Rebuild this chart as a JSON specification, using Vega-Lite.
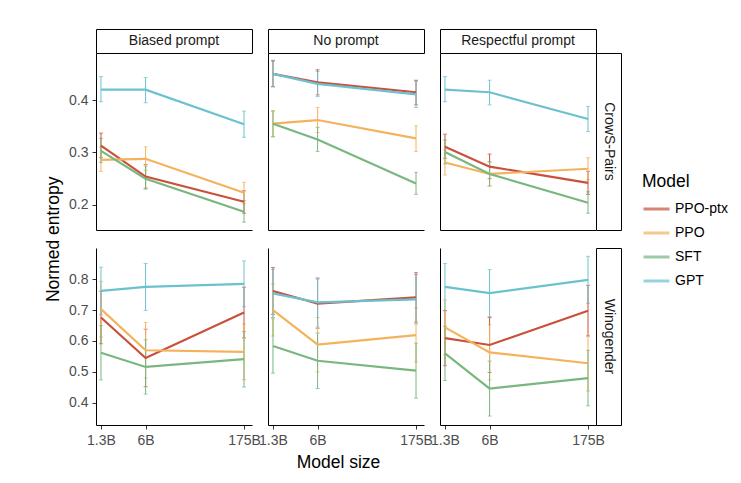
{
  "$schema": "https://vega.github.io/schema/vega-lite/v6.json",
  "padding": {"left": 44, "top": 28, "right": 5, "bottom": 5},
  "background": "white",
  "config": {
    "view": {"stroke": null},
    "font": "Liberation Sans",
    "axis": {
      "grid": false,
      "domainColor": "black",
      "domainWidth": 1,
      "tickColor": "#333333",
      "tickSize": 4,
      "labelColor": "#4d4d4d",
      "labelFontSize": 14,
      "labelFont": "Liberation Sans",
      "labelPadding": 4,
      "titleFont": "Liberation Sans",
      "titleFontWeight": "normal",
      "titleFontSize": 17.5,
      "titleColor": "black"
    },
    "legend": {
      "orient": "none",
      "legendX": 546,
      "legendY": 144,
      "titleFontSize": 17.5,
      "titleFontWeight": "normal",
      "titleColor": "black",
      "titleFont": "Liberation Sans",
      "labelFont": "Liberation Sans",
      "labelFontSize": 14,
      "labelColor": "black",
      "symbolType": "stroke",
      "symbolSize": 676,
      "symbolStrokeWidth": 3,
      "rowPadding": 2,
      "labelOffset": 4,
      "titlePadding": 4
    }
  },
  "data": {
    "values": [
      {"set": "CrowS-Pairs", "prompt": "Biased prompt", "model": "PPO-ptx", "size": 1.3, "mean": 0.313, "lo": 0.290, "hi": 0.337},
      {"set": "CrowS-Pairs", "prompt": "Biased prompt", "model": "PPO-ptx", "size": 6, "mean": 0.254, "lo": 0.232, "hi": 0.277},
      {"set": "CrowS-Pairs", "prompt": "Biased prompt", "model": "PPO-ptx", "size": 175, "mean": 0.206, "lo": 0.184, "hi": 0.227},
      {"set": "CrowS-Pairs", "prompt": "Biased prompt", "model": "PPO", "size": 1.3, "mean": 0.286, "lo": 0.264, "hi": 0.310},
      {"set": "CrowS-Pairs", "prompt": "Biased prompt", "model": "PPO", "size": 6, "mean": 0.288, "lo": 0.266, "hi": 0.311},
      {"set": "CrowS-Pairs", "prompt": "Biased prompt", "model": "PPO", "size": 175, "mean": 0.223, "lo": 0.202, "hi": 0.243},
      {"set": "CrowS-Pairs", "prompt": "Biased prompt", "model": "SFT", "size": 1.3, "mean": 0.303, "lo": 0.281, "hi": 0.327},
      {"set": "CrowS-Pairs", "prompt": "Biased prompt", "model": "SFT", "size": 6, "mean": 0.250, "lo": 0.230, "hi": 0.274},
      {"set": "CrowS-Pairs", "prompt": "Biased prompt", "model": "SFT", "size": 175, "mean": 0.187, "lo": 0.167, "hi": 0.208},
      {"set": "CrowS-Pairs", "prompt": "Biased prompt", "model": "GPT", "size": 1.3, "mean": 0.420, "lo": 0.397, "hi": 0.445},
      {"set": "CrowS-Pairs", "prompt": "Biased prompt", "model": "GPT", "size": 6, "mean": 0.420, "lo": 0.395, "hi": 0.443},
      {"set": "CrowS-Pairs", "prompt": "Biased prompt", "model": "GPT", "size": 175, "mean": 0.354, "lo": 0.329, "hi": 0.379},

      {"set": "CrowS-Pairs", "prompt": "No prompt", "model": "PPO-ptx", "size": 1.3, "mean": 0.450, "lo": 0.426, "hi": 0.476},
      {"set": "CrowS-Pairs", "prompt": "No prompt", "model": "PPO-ptx", "size": 6, "mean": 0.434, "lo": 0.410, "hi": 0.458},
      {"set": "CrowS-Pairs", "prompt": "No prompt", "model": "PPO-ptx", "size": 175, "mean": 0.415, "lo": 0.391, "hi": 0.438},
      {"set": "CrowS-Pairs", "prompt": "No prompt", "model": "PPO", "size": 1.3, "mean": 0.355, "lo": 0.330, "hi": 0.380},
      {"set": "CrowS-Pairs", "prompt": "No prompt", "model": "PPO", "size": 6, "mean": 0.362, "lo": 0.338, "hi": 0.386},
      {"set": "CrowS-Pairs", "prompt": "No prompt", "model": "PPO", "size": 175, "mean": 0.327, "lo": 0.302, "hi": 0.351},
      {"set": "CrowS-Pairs", "prompt": "No prompt", "model": "SFT", "size": 1.3, "mean": 0.355, "lo": 0.330, "hi": 0.379},
      {"set": "CrowS-Pairs", "prompt": "No prompt", "model": "SFT", "size": 6, "mean": 0.325, "lo": 0.302, "hi": 0.348},
      {"set": "CrowS-Pairs", "prompt": "No prompt", "model": "SFT", "size": 175, "mean": 0.241, "lo": 0.220, "hi": 0.262},
      {"set": "CrowS-Pairs", "prompt": "No prompt", "model": "GPT", "size": 1.3, "mean": 0.450, "lo": 0.425, "hi": 0.474},
      {"set": "CrowS-Pairs", "prompt": "No prompt", "model": "GPT", "size": 6, "mean": 0.431, "lo": 0.407, "hi": 0.455},
      {"set": "CrowS-Pairs", "prompt": "No prompt", "model": "GPT", "size": 175, "mean": 0.411, "lo": 0.386, "hi": 0.436},

      {"set": "CrowS-Pairs", "prompt": "Respectful prompt", "model": "PPO-ptx", "size": 1.3, "mean": 0.311, "lo": 0.289, "hi": 0.335},
      {"set": "CrowS-Pairs", "prompt": "Respectful prompt", "model": "PPO-ptx", "size": 6, "mean": 0.273, "lo": 0.250, "hi": 0.297},
      {"set": "CrowS-Pairs", "prompt": "Respectful prompt", "model": "PPO-ptx", "size": 175, "mean": 0.242, "lo": 0.220, "hi": 0.264},
      {"set": "CrowS-Pairs", "prompt": "Respectful prompt", "model": "PPO", "size": 1.3, "mean": 0.281, "lo": 0.257, "hi": 0.305},
      {"set": "CrowS-Pairs", "prompt": "Respectful prompt", "model": "PPO", "size": 6, "mean": 0.259, "lo": 0.236, "hi": 0.282},
      {"set": "CrowS-Pairs", "prompt": "Respectful prompt", "model": "PPO", "size": 175, "mean": 0.269, "lo": 0.248, "hi": 0.290},
      {"set": "CrowS-Pairs", "prompt": "Respectful prompt", "model": "SFT", "size": 1.3, "mean": 0.301, "lo": 0.278, "hi": 0.324},
      {"set": "CrowS-Pairs", "prompt": "Respectful prompt", "model": "SFT", "size": 6, "mean": 0.259, "lo": 0.236, "hi": 0.282},
      {"set": "CrowS-Pairs", "prompt": "Respectful prompt", "model": "SFT", "size": 175, "mean": 0.204, "lo": 0.184, "hi": 0.225},
      {"set": "CrowS-Pairs", "prompt": "Respectful prompt", "model": "GPT", "size": 1.3, "mean": 0.420, "lo": 0.397, "hi": 0.445},
      {"set": "CrowS-Pairs", "prompt": "Respectful prompt", "model": "GPT", "size": 6, "mean": 0.415, "lo": 0.391, "hi": 0.438},
      {"set": "CrowS-Pairs", "prompt": "Respectful prompt", "model": "GPT", "size": 175, "mean": 0.364, "lo": 0.340, "hi": 0.388},

      {"set": "Winogender", "prompt": "Biased prompt", "model": "PPO-ptx", "size": 1.3, "mean": 0.676, "lo": 0.591, "hi": 0.761},
      {"set": "Winogender", "prompt": "Biased prompt", "model": "PPO-ptx", "size": 6, "mean": 0.545, "lo": 0.452, "hi": 0.638},
      {"set": "Winogender", "prompt": "Biased prompt", "model": "PPO-ptx", "size": 175, "mean": 0.692, "lo": 0.610, "hi": 0.774},
      {"set": "Winogender", "prompt": "Biased prompt", "model": "PPO", "size": 1.3, "mean": 0.703, "lo": 0.613, "hi": 0.793},
      {"set": "Winogender", "prompt": "Biased prompt", "model": "PPO", "size": 6, "mean": 0.570, "lo": 0.480, "hi": 0.660},
      {"set": "Winogender", "prompt": "Biased prompt", "model": "PPO", "size": 175, "mean": 0.565, "lo": 0.475, "hi": 0.655},
      {"set": "Winogender", "prompt": "Biased prompt", "model": "SFT", "size": 1.3, "mean": 0.562, "lo": 0.474, "hi": 0.650},
      {"set": "Winogender", "prompt": "Biased prompt", "model": "SFT", "size": 6, "mean": 0.516, "lo": 0.428, "hi": 0.604},
      {"set": "Winogender", "prompt": "Biased prompt", "model": "SFT", "size": 175, "mean": 0.541, "lo": 0.451, "hi": 0.631},
      {"set": "Winogender", "prompt": "Biased prompt", "model": "GPT", "size": 1.3, "mean": 0.762, "lo": 0.685, "hi": 0.839},
      {"set": "Winogender", "prompt": "Biased prompt", "model": "GPT", "size": 6, "mean": 0.775, "lo": 0.699, "hi": 0.851},
      {"set": "Winogender", "prompt": "Biased prompt", "model": "GPT", "size": 175, "mean": 0.785, "lo": 0.711, "hi": 0.859},

      {"set": "Winogender", "prompt": "No prompt", "model": "PPO-ptx", "size": 1.3, "mean": 0.762, "lo": 0.686, "hi": 0.838},
      {"set": "Winogender", "prompt": "No prompt", "model": "PPO-ptx", "size": 6, "mean": 0.721, "lo": 0.641, "hi": 0.801},
      {"set": "Winogender", "prompt": "No prompt", "model": "PPO-ptx", "size": 175, "mean": 0.741, "lo": 0.661, "hi": 0.821},
      {"set": "Winogender", "prompt": "No prompt", "model": "PPO", "size": 1.3, "mean": 0.700, "lo": 0.616, "hi": 0.784},
      {"set": "Winogender", "prompt": "No prompt", "model": "PPO", "size": 6, "mean": 0.588, "lo": 0.500, "hi": 0.676},
      {"set": "Winogender", "prompt": "No prompt", "model": "PPO", "size": 175, "mean": 0.619, "lo": 0.532, "hi": 0.706},
      {"set": "Winogender", "prompt": "No prompt", "model": "SFT", "size": 1.3, "mean": 0.584, "lo": 0.496, "hi": 0.672},
      {"set": "Winogender", "prompt": "No prompt", "model": "SFT", "size": 6, "mean": 0.536, "lo": 0.446, "hi": 0.626},
      {"set": "Winogender", "prompt": "No prompt", "model": "SFT", "size": 175, "mean": 0.504, "lo": 0.415, "hi": 0.593},
      {"set": "Winogender", "prompt": "No prompt", "model": "GPT", "size": 1.3, "mean": 0.754, "lo": 0.676, "hi": 0.832},
      {"set": "Winogender", "prompt": "No prompt", "model": "GPT", "size": 6, "mean": 0.725, "lo": 0.645, "hi": 0.805},
      {"set": "Winogender", "prompt": "No prompt", "model": "GPT", "size": 175, "mean": 0.735, "lo": 0.655, "hi": 0.815},

      {"set": "Winogender", "prompt": "Respectful prompt", "model": "PPO-ptx", "size": 1.3, "mean": 0.609, "lo": 0.520, "hi": 0.698},
      {"set": "Winogender", "prompt": "Respectful prompt", "model": "PPO-ptx", "size": 6, "mean": 0.587, "lo": 0.498, "hi": 0.676},
      {"set": "Winogender", "prompt": "Respectful prompt", "model": "PPO-ptx", "size": 175, "mean": 0.698, "lo": 0.616, "hi": 0.780},
      {"set": "Winogender", "prompt": "Respectful prompt", "model": "PPO", "size": 1.3, "mean": 0.644, "lo": 0.555, "hi": 0.733},
      {"set": "Winogender", "prompt": "Respectful prompt", "model": "PPO", "size": 6, "mean": 0.563, "lo": 0.474, "hi": 0.652},
      {"set": "Winogender", "prompt": "Respectful prompt", "model": "PPO", "size": 175, "mean": 0.528, "lo": 0.438, "hi": 0.618},
      {"set": "Winogender", "prompt": "Respectful prompt", "model": "SFT", "size": 1.3, "mean": 0.560, "lo": 0.472, "hi": 0.648},
      {"set": "Winogender", "prompt": "Respectful prompt", "model": "SFT", "size": 6, "mean": 0.446, "lo": 0.357, "hi": 0.535},
      {"set": "Winogender", "prompt": "Respectful prompt", "model": "SFT", "size": 175, "mean": 0.480, "lo": 0.390, "hi": 0.570},
      {"set": "Winogender", "prompt": "Respectful prompt", "model": "GPT", "size": 1.3, "mean": 0.775, "lo": 0.699, "hi": 0.851},
      {"set": "Winogender", "prompt": "Respectful prompt", "model": "GPT", "size": 6, "mean": 0.755, "lo": 0.679, "hi": 0.831},
      {"set": "Winogender", "prompt": "Respectful prompt", "model": "GPT", "size": 175, "mean": 0.798, "lo": 0.722, "hi": 0.874}
    ]
  },
  "bounds": "flush",
  "spacing": 0,
  "columns": 6,
  "concat": [
    {"width": 156, "height": 24, "view": {"stroke": "black", "fill": "white"}, "data": {"values": [{"label": "Biased prompt"}]},
     "mark": {"type": "text", "fontSize": 14, "color": "#1a1a1a", "align": "center", "baseline": "middle"},
     "encoding": {"text": {"field": "label"}}},
    {"width": 15.5, "height": 1, "data": {"values": []}, "mark": "point"},
    {"width": 156, "height": 24, "view": {"stroke": "black", "fill": "white"}, "data": {"values": [{"label": "No prompt"}]},
     "mark": {"type": "text", "fontSize": 14, "color": "#1a1a1a", "align": "center", "baseline": "middle"},
     "encoding": {"text": {"field": "label"}}},
    {"width": 15.5, "height": 1, "data": {"values": []}, "mark": "point"},
    {"width": 156, "height": 24, "view": {"stroke": "black", "fill": "white"}, "data": {"values": [{"label": "Respectful prompt"}]},
     "mark": {"type": "text", "fontSize": 14, "color": "#1a1a1a", "align": "center", "baseline": "middle"},
     "encoding": {"text": {"field": "label"}}},
    {"width": 25, "height": 1, "data": {"values": []}, "mark": "point"},

    {
      "width": 156, "height": 177,
      "transform": [{"filter": "datum.set === 'CrowS-Pairs' && datum.prompt === 'Biased prompt'"}],
      "encoding": {
        "x": {"field": "size", "type": "quantitative", "scale": {"type": "log", "domain": [1.096, 230], "nice": false}, "axis": {"labels": false, "ticks": false, "title": null}},
        "color": {"field": "model", "type": "nominal", "title": "Model", "scale": {"domain": ["PPO-ptx", "PPO", "SFT", "GPT"], "range": ["#c9503a", "#f4b25c", "#78b77f", "#6cc1cf"]}}
      },
      "layer": [
        {"mark": {"type": "errorbar", "ticks": {"size": 4}, "thickness": 1},
         "encoding": {"y": {"field": "lo", "type": "quantitative", "scale": {"domain": [0.152, 0.49], "nice": false, "zero": false}, "axis": {"values": [0.2, 0.3, 0.4], "format": ".1f", "title": null}}, "y2": {"field": "hi"}}},
        {"mark": {"type": "line", "strokeWidth": 2.2},
         "encoding": {"y": {"field": "mean", "type": "quantitative", "scale": {"domain": [0.152, 0.49], "nice": false, "zero": false}, "axis": {"values": [0.2, 0.3, 0.4], "format": ".1f", "title": null}}}}
      ]
    },
    {"width": 15.5, "height": 1, "data": {"values": []}, "mark": "point"},
    {
      "width": 156, "height": 177,
      "transform": [{"filter": "datum.set === 'CrowS-Pairs' && datum.prompt === 'No prompt'"}],
      "encoding": {
        "x": {"field": "size", "type": "quantitative", "scale": {"type": "log", "domain": [1.096, 230], "nice": false}, "axis": {"labels": false, "ticks": false, "title": null}},
        "color": {"field": "model", "type": "nominal", "title": "Model", "scale": {"domain": ["PPO-ptx", "PPO", "SFT", "GPT"], "range": ["#c9503a", "#f4b25c", "#78b77f", "#6cc1cf"]}}
      },
      "layer": [
        {"mark": {"type": "errorbar", "ticks": {"size": 4}, "thickness": 1},
         "encoding": {"y": {"field": "lo", "type": "quantitative", "scale": {"domain": [0.152, 0.49], "nice": false, "zero": false}, "axis": {"labels": false, "ticks": false, "title": null}}, "y2": {"field": "hi"}}},
        {"mark": {"type": "line", "strokeWidth": 2.2},
         "encoding": {"y": {"field": "mean", "type": "quantitative", "scale": {"domain": [0.152, 0.49], "nice": false, "zero": false}, "axis": {"labels": false, "ticks": false, "title": null}}}}
      ]
    },
    {"width": 15.5, "height": 1, "data": {"values": []}, "mark": "point"},
    {
      "width": 156, "height": 177,
      "transform": [{"filter": "datum.set === 'CrowS-Pairs' && datum.prompt === 'Respectful prompt'"}],
      "encoding": {
        "x": {"field": "size", "type": "quantitative", "scale": {"type": "log", "domain": [1.096, 230], "nice": false}, "axis": {"labels": false, "ticks": false, "title": null}},
        "color": {"field": "model", "type": "nominal", "title": "Model", "scale": {"domain": ["PPO-ptx", "PPO", "SFT", "GPT"], "range": ["#c9503a", "#f4b25c", "#78b77f", "#6cc1cf"]}}
      },
      "layer": [
        {"mark": {"type": "errorbar", "ticks": {"size": 4}, "thickness": 1},
         "encoding": {"y": {"field": "lo", "type": "quantitative", "scale": {"domain": [0.152, 0.49], "nice": false, "zero": false}, "axis": {"labels": false, "ticks": false, "title": null}}, "y2": {"field": "hi"}}},
        {"mark": {"type": "line", "strokeWidth": 2.2},
         "encoding": {"y": {"field": "mean", "type": "quantitative", "scale": {"domain": [0.152, 0.49], "nice": false, "zero": false}, "axis": {"labels": false, "ticks": false, "title": null}}}}
      ]
    },
    {"width": 25, "height": 177, "view": {"stroke": "black", "fill": "white"}, "data": {"values": [{"label": "CrowS-Pairs"}]},
     "mark": {"type": "text", "fontSize": 14, "color": "#1a1a1a", "align": "center", "baseline": "middle", "angle": 90},
     "encoding": {"text": {"field": "label"}}},

    {"width": 156, "height": 17.7, "data": {"values": []}, "mark": "point",
     "encoding": {"y": {"field": "v", "type": "quantitative", "scale": {"domain": [0, 1]}, "axis": {"title": "Normed entropy", "domain": false, "ticks": false, "labels": false, "titlePadding": 34}}}},
    {"width": 15.5, "height": 1, "data": {"values": []}, "mark": "point"},
    {"width": 156, "height": 1, "data": {"values": []}, "mark": "point"},
    {"width": 15.5, "height": 1, "data": {"values": []}, "mark": "point"},
    {"width": 156, "height": 1, "data": {"values": []}, "mark": "point"},
    {"width": 25, "height": 1, "data": {"values": []}, "mark": "point"},

    {
      "width": 156, "height": 177,
      "transform": [{"filter": "datum.set === 'Winogender' && datum.prompt === 'Biased prompt'"}],
      "encoding": {
        "x": {"field": "size", "type": "quantitative", "scale": {"type": "log", "domain": [1.096, 230], "nice": false}, "axis": {"values": [1.3, 6, 175], "labelExpr": "datum.value + 'B'", "title": null}},
        "color": {"field": "model", "type": "nominal", "title": "Model", "scale": {"domain": ["PPO-ptx", "PPO", "SFT", "GPT"], "range": ["#c9503a", "#f4b25c", "#78b77f", "#6cc1cf"]}}
      },
      "layer": [
        {"mark": {"type": "errorbar", "ticks": {"size": 4}, "thickness": 1},
         "encoding": {"y": {"field": "lo", "type": "quantitative", "scale": {"domain": [0.328, 0.901], "nice": false, "zero": false}, "axis": {"values": [0.4, 0.5, 0.6, 0.7, 0.8], "format": ".1f", "title": null}}, "y2": {"field": "hi"}}},
        {"mark": {"type": "line", "strokeWidth": 2.2},
         "encoding": {"y": {"field": "mean", "type": "quantitative", "scale": {"domain": [0.328, 0.901], "nice": false, "zero": false}, "axis": {"values": [0.4, 0.5, 0.6, 0.7, 0.8], "format": ".1f", "title": null}}}}
      ]
    },
    {"width": 15.5, "height": 1, "data": {"values": []}, "mark": "point"},
    {
      "width": 156, "height": 177,
      "transform": [{"filter": "datum.set === 'Winogender' && datum.prompt === 'No prompt'"}],
      "encoding": {
        "x": {"field": "size", "type": "quantitative", "scale": {"type": "log", "domain": [1.096, 230], "nice": false}, "axis": {"values": [1.3, 6, 175], "labelExpr": "datum.value + 'B'", "title": "Model size", "titlePadding": 6, "titleX": 70}},
        "color": {"field": "model", "type": "nominal", "title": "Model", "scale": {"domain": ["PPO-ptx", "PPO", "SFT", "GPT"], "range": ["#c9503a", "#f4b25c", "#78b77f", "#6cc1cf"]}}
      },
      "layer": [
        {"mark": {"type": "errorbar", "ticks": {"size": 4}, "thickness": 1},
         "encoding": {"y": {"field": "lo", "type": "quantitative", "scale": {"domain": [0.328, 0.901], "nice": false, "zero": false}, "axis": {"labels": false, "ticks": false, "title": null}}, "y2": {"field": "hi"}}},
        {"mark": {"type": "line", "strokeWidth": 2.2},
         "encoding": {"y": {"field": "mean", "type": "quantitative", "scale": {"domain": [0.328, 0.901], "nice": false, "zero": false}, "axis": {"labels": false, "ticks": false, "title": null}}}}
      ]
    },
    {"width": 15.5, "height": 1, "data": {"values": []}, "mark": "point"},
    {
      "width": 156, "height": 177,
      "transform": [{"filter": "datum.set === 'Winogender' && datum.prompt === 'Respectful prompt'"}],
      "encoding": {
        "x": {"field": "size", "type": "quantitative", "scale": {"type": "log", "domain": [1.096, 230], "nice": false}, "axis": {"values": [1.3, 6, 175], "labelExpr": "datum.value + 'B'", "title": null}},
        "color": {"field": "model", "type": "nominal", "title": "Model", "scale": {"domain": ["PPO-ptx", "PPO", "SFT", "GPT"], "range": ["#c9503a", "#f4b25c", "#78b77f", "#6cc1cf"]}}
      },
      "layer": [
        {"mark": {"type": "errorbar", "ticks": {"size": 4}, "thickness": 1},
         "encoding": {"y": {"field": "lo", "type": "quantitative", "scale": {"domain": [0.328, 0.901], "nice": false, "zero": false}, "axis": {"labels": false, "ticks": false, "title": null}}, "y2": {"field": "hi"}}},
        {"mark": {"type": "line", "strokeWidth": 2.2},
         "encoding": {"y": {"field": "mean", "type": "quantitative", "scale": {"domain": [0.328, 0.901], "nice": false, "zero": false}, "axis": {"labels": false, "ticks": false, "title": null}}}}
      ]
    },
    {"width": 25, "height": 177, "view": {"stroke": "black", "fill": "white"}, "data": {"values": [{"label": "Winogender"}]},
     "mark": {"type": "text", "fontSize": 14, "color": "#1a1a1a", "align": "center", "baseline": "middle", "angle": 90},
     "encoding": {"text": {"field": "label"}}}
  ]
}
